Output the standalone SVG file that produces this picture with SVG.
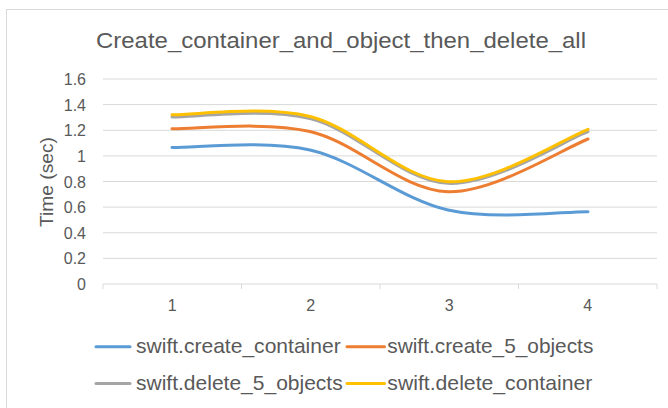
<svg xmlns="http://www.w3.org/2000/svg" width="668" height="408" viewBox="0 0 668 408">
  <style>
    text { font-family: "Liberation Sans", Arial, sans-serif; fill: #595959; }
    .grid { stroke: #D9D9D9; stroke-width: 1; fill: none; }
    .ylab { font-size: 16px; text-anchor: end; }
    .xlab { font-size: 16px; text-anchor: middle; }
    .leg { font-size: 21px; }
    .series { fill: none; stroke-width: 3; stroke-linecap: round; stroke-linejoin: round; }
    .s1 { stroke: #5B9BD5; }
    .s2 { stroke: #ED7D31; }
    .s3 { stroke: #A5A5A5; }
    .s4 { stroke: #FFC000; }
  </style>
  <rect x="0" y="0" width="668" height="408" fill="#FFFFFF"/>
  <rect id="chart-border" x="6.5" y="9.5" width="680" height="420" fill="#FFFFFF" stroke="#D9D9D9" stroke-width="1"/>

  <g id="title">
    <text x="96" y="48.3" font-size="22" textLength="490" lengthAdjust="spacingAndGlyphs">Create_container_and_object_then_delete_all</text>
  </g>

  <g id="gridlines">
    <line class="grid" x1="103" y1="79" x2="657" y2="79"/>
    <line class="grid" x1="103" y1="104.6" x2="657" y2="104.6"/>
    <line class="grid" x1="103" y1="130.3" x2="657" y2="130.3"/>
    <line class="grid" x1="103" y1="155.9" x2="657" y2="155.9"/>
    <line class="grid" x1="103" y1="181.5" x2="657" y2="181.5"/>
    <line class="grid" x1="103" y1="207.1" x2="657" y2="207.1"/>
    <line class="grid" x1="103" y1="232.8" x2="657" y2="232.8"/>
    <line class="grid" x1="103" y1="258.4" x2="657" y2="258.4"/>
    <line class="grid" x1="103" y1="284" x2="657" y2="284"/>
    <line class="grid" x1="103" y1="284" x2="103" y2="289"/>
    <line class="grid" x1="241.5" y1="284" x2="241.5" y2="289"/>
    <line class="grid" x1="380" y1="284" x2="380" y2="289"/>
    <line class="grid" x1="518.5" y1="284" x2="518.5" y2="289"/>
    <line class="grid" x1="657" y1="284" x2="657" y2="289"/>
  </g>

  <g id="y-axis">
    <text class="ylab" x="86" y="85">1.6</text>
    <text class="ylab" x="86" y="110.6">1.4</text>
    <text class="ylab" x="86" y="136.3">1.2</text>
    <text class="ylab" x="86" y="161.9">1</text>
    <text class="ylab" x="86" y="187.5">0.8</text>
    <text class="ylab" x="86" y="213.1">0.6</text>
    <text class="ylab" x="86" y="238.8">0.4</text>
    <text class="ylab" x="86" y="264.4">0.2</text>
    <text class="ylab" x="86" y="290">0</text>
    <text transform="translate(52.5,182) rotate(-90)" text-anchor="middle" font-size="19" textLength="90" lengthAdjust="spacingAndGlyphs">Time (sec)</text>
  </g>

  <g id="x-axis">
    <text class="xlab" x="172.25" y="310.7">1</text>
    <text class="xlab" x="310.75" y="310.7">2</text>
    <text class="xlab" x="449.25" y="310.7">3</text>
    <text class="xlab" x="587.75" y="310.7">4</text>
  </g>

  <g id="connectors">
    <path id="swift-create-container" class="series s1" d="M172,147.5 C195,147.92 264,139.58 310,150 C356,160.42 401.67,199.72 448,210 C494.33,220.28 564.67,211.42 588,211.7"/>
    <path id="swift-create-5-objects" class="series s2" d="M172,128.7 C195,129.17 264,121 310,131.5 C356,142 401.67,190.45 448,191.7 C494.33,192.95 564.67,147.78 588,139"/>
    <path id="swift-delete-5-objects" class="series s3" d="M172,117 C195,117.25 264,107.45 310,118.5 C356,129.55 401.67,181.1 448,183.3 C494.33,185.5 564.67,140.3 588,131.7"/>
    <path id="swift-delete-container" class="series s4" d="M172,114.7 C195,115 264,105.33 310,116.5 C356,127.67 401.67,179.57 448,181.7 C494.33,183.83 564.67,138.03 588,129.3"/>
  </g>

  <g id="legend">
    <g id="legend-create-container">
      <line class="series s1" x1="96" y1="346.7" x2="130" y2="346.7" stroke-linecap="butt"/>
      <text class="leg" x="136" y="352.8" textLength="204.7" lengthAdjust="spacingAndGlyphs">swift.create_container</text>
    </g>
    <g id="legend-create-5-objects">
      <line class="series s2" x1="347" y1="346.7" x2="384.5" y2="346.7" stroke-linecap="butt"/>
      <text class="leg" x="387.3" y="352.8" textLength="206" lengthAdjust="spacingAndGlyphs">swift.create_5_objects</text>
    </g>
    <g id="legend-delete-5-objects">
      <line class="series s3" x1="96" y1="383.5" x2="130" y2="383.5" stroke-linecap="butt"/>
      <text class="leg" x="136" y="389.5" textLength="206.7" lengthAdjust="spacingAndGlyphs">swift.delete_5_objects</text>
    </g>
    <g id="legend-delete-container">
      <line class="series s4" x1="347" y1="383.5" x2="384.5" y2="383.5" stroke-linecap="butt"/>
      <text class="leg" x="387.3" y="389.5" textLength="205" lengthAdjust="spacingAndGlyphs">swift.delete_container</text>
    </g>
  </g>
</svg>
